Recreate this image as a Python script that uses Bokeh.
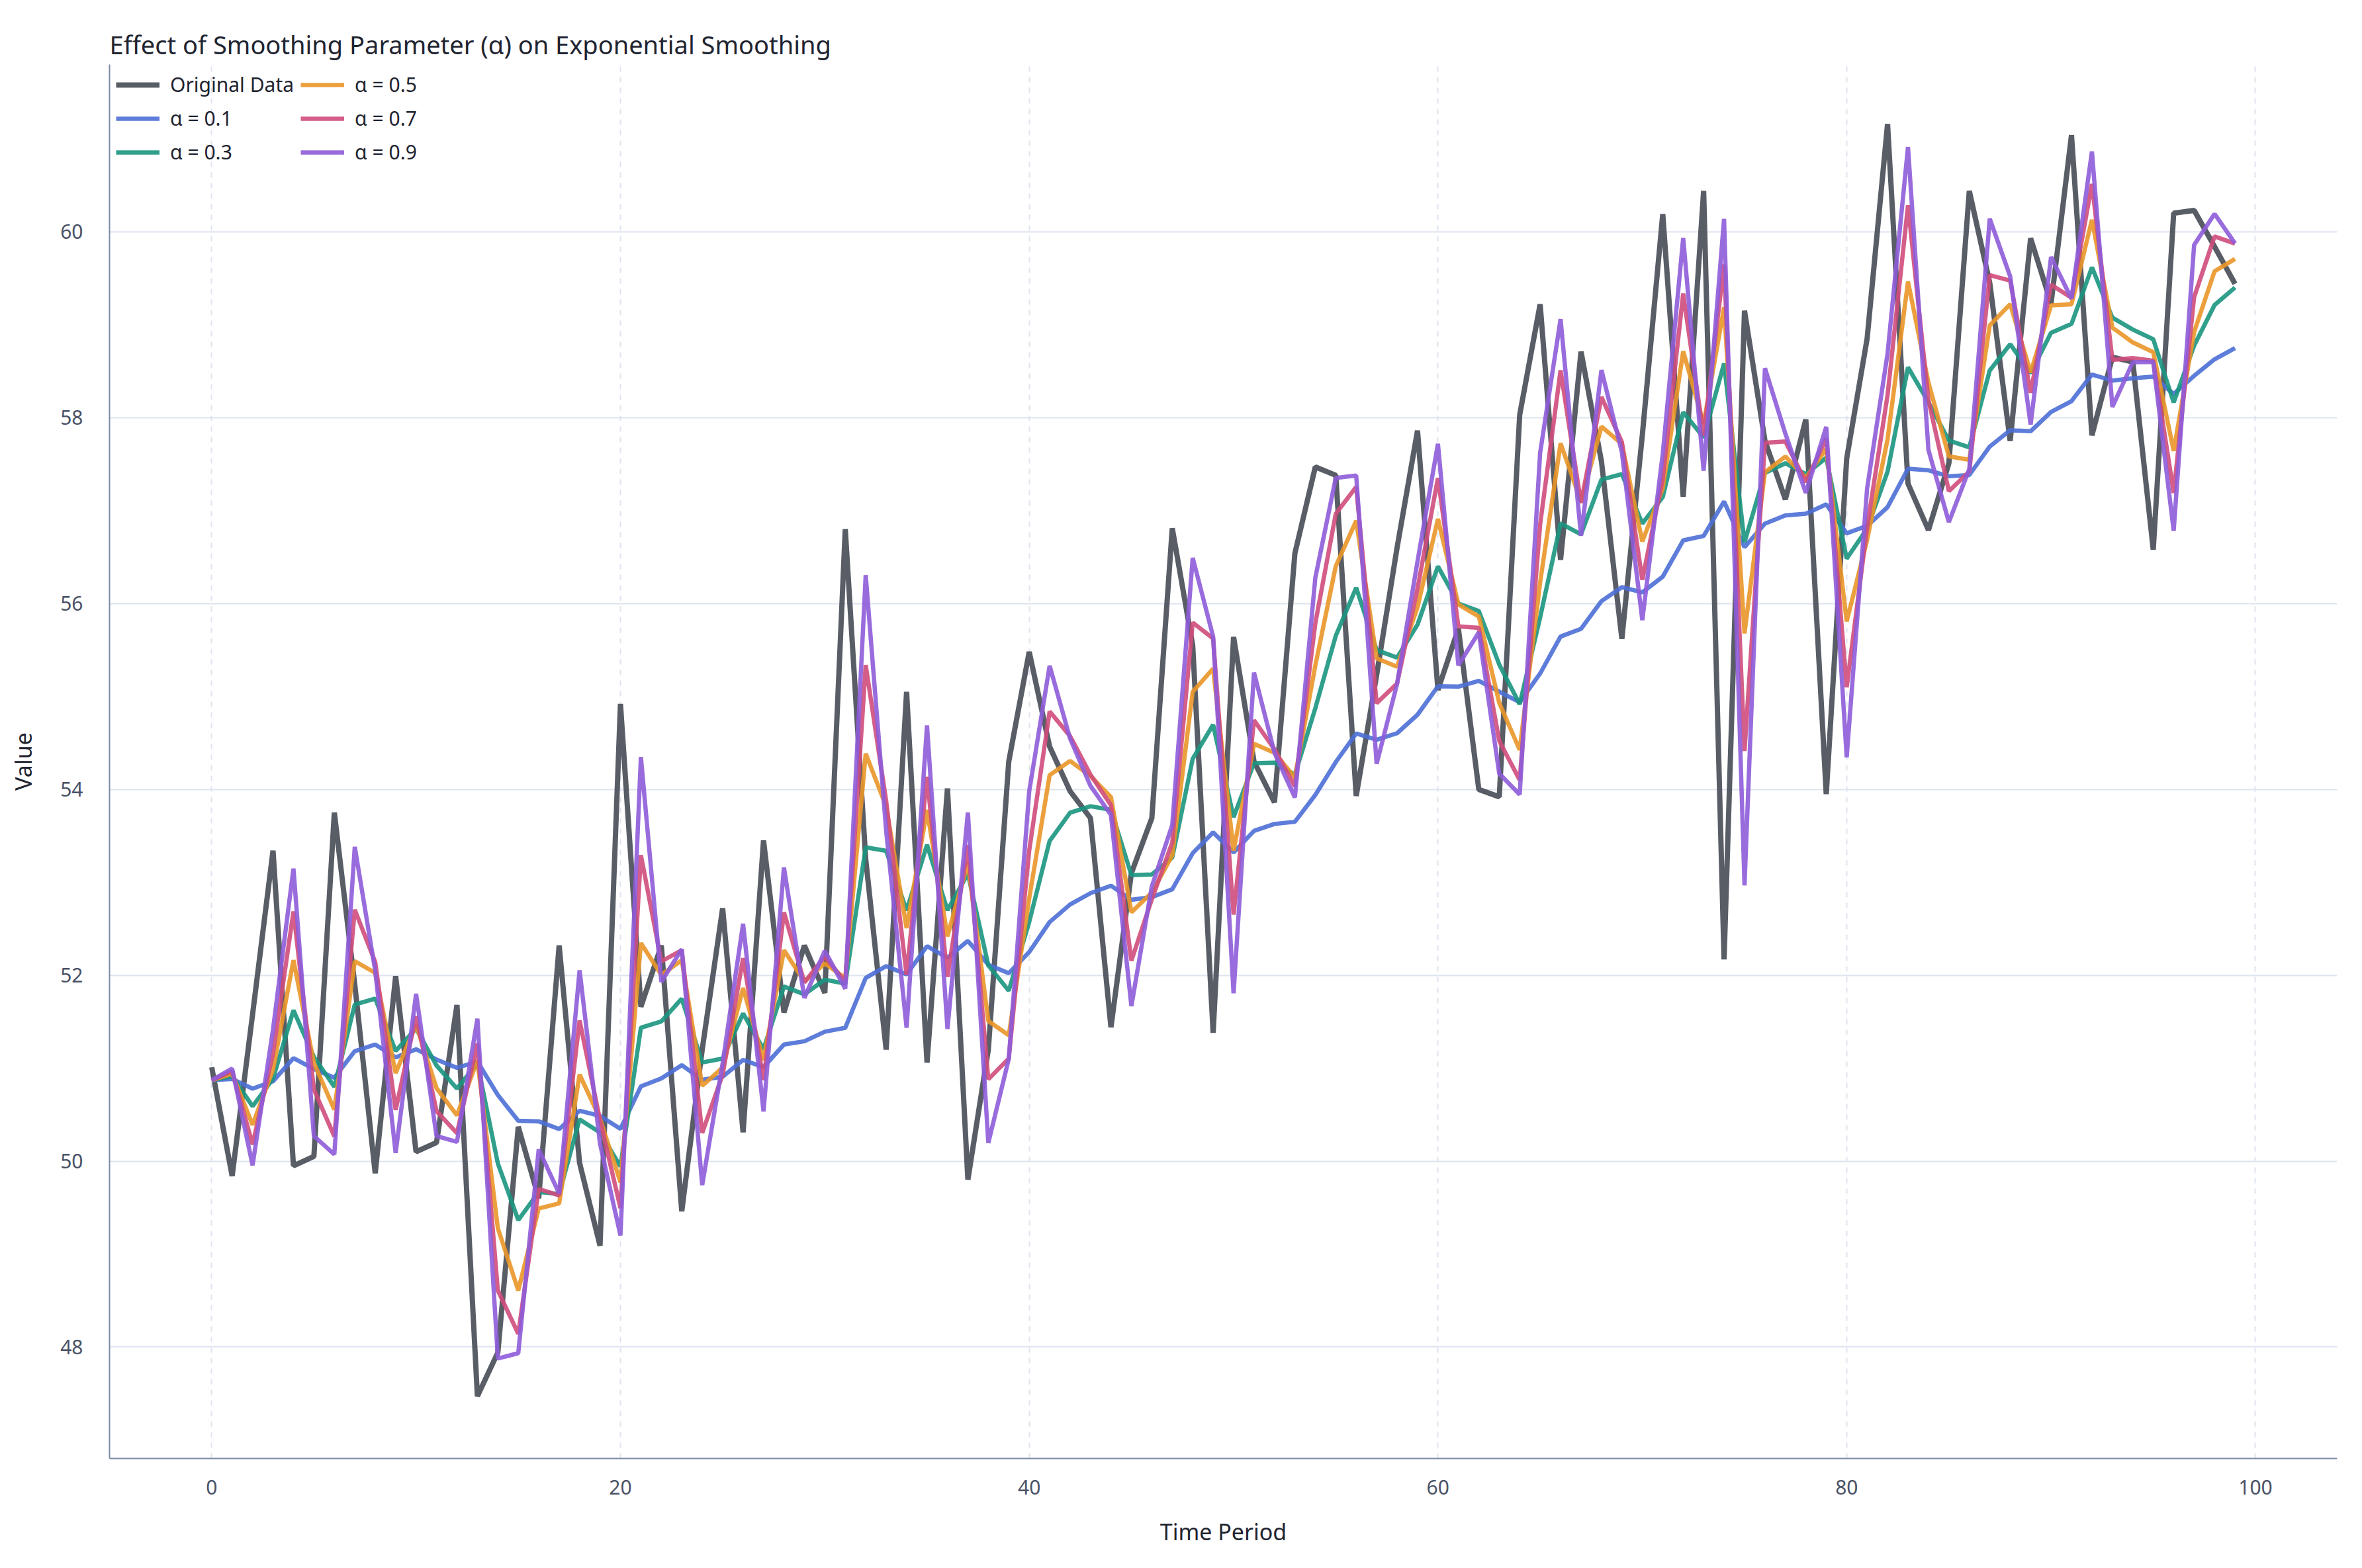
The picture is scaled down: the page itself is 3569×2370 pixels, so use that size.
from bokeh.plotting import figure
from bokeh.models import Legend, LegendItem, Range1d, FixedTicker
from bokeh.embed import file_html
from bokeh.resources import INLINE

time = list(range(100))
original = [51.01, 49.84, 51.58, 53.34, 49.95, 50.05, 53.75, 51.9, 49.87, 51.99,
            50.1, 50.2, 51.68, 47.47, 47.94, 50.37, 49.6, 52.32, 49.98, 49.09,
            54.92, 51.66, 52.32, 49.46, 51.2, 52.72, 50.31, 53.45, 51.6, 52.32,
            51.81, 56.8, 53.25, 51.2, 55.05, 51.06, 54.01, 49.8, 51.2, 54.3,
            55.48, 54.46, 53.98, 53.69, 51.44, 53.1, 53.69, 56.81, 55.55, 51.38,
            55.64, 54.3, 53.86, 56.54, 57.47, 57.38, 53.93, 55.23, 56.6, 57.86,
            55.07, 55.73, 54.0, 53.92, 58.03, 59.22, 56.47, 58.71, 57.53, 55.62,
            57.81, 60.19, 57.15, 60.44, 52.17, 59.15, 57.75, 57.12, 57.98, 53.95,
            57.56, 58.85, 61.16, 57.29, 56.79, 57.51, 60.44, 59.45, 57.75, 59.93,
            59.23, 61.04, 57.81, 58.65, 58.6, 56.58, 60.2, 60.23, 59.84, 59.44]
initial_level = 50.87
alphas = [0.1, 0.3, 0.5, 0.7, 0.9]
series_colors = ["#4c6fd6", "#1a9580", "#ea9628", "#cf4d7c", "#8e5cd9"]


def smooth(data, a):
    # one-step-ahead exponential smoothing (forecast uses previous observation)
    out = [initial_level]
    for v in data[:-1]:
        out.append(a * v + (1 - a) * out[-1])
    return out


p = figure(width=3553, height=2354, output_backend="svg", toolbar_location=None,
           x_range=Range1d(-5, 104), y_range=Range1d(46.8, 61.8),
           title="Effect of Smoothing Parameter (α) on Exponential Smoothing")
p.min_border_left = 165
p.min_border_right = 22
p.min_border_top = 97
p.min_border_bottom = 150
p.title.text_font = "Noto Sans"
p.title.text_font_size = "38px"
p.title.text_font_style = "normal"
p.title.text_color = "#1f2430"
p.title.offset = 0
p.outline_line_color = None

items = []
r = p.line(time, original, line_color="#474b55", line_alpha=0.9, line_width=8)
items.append(LegendItem(label="Original Data", renderers=[r]))
for a, c in zip(alphas, series_colors):
    r = p.line(time, smooth(original, a), line_color=c, line_alpha=0.9, line_width=6.5)
    items.append(LegendItem(label=f"α = {a}", renderers=[r]))

leg = Legend(items=items, location="top_left", nrows=3, orientation="vertical")
leg.border_line_color = None
leg.background_fill_alpha = 0.0
leg.label_text_font = "Noto Sans"
leg.label_text_font_size = "30px"
leg.label_text_color = "#1f2430"
leg.glyph_width = 66
leg.label_standoff = 16
leg.spacing = 10
leg.margin = 10
leg.padding = 12
p.add_layout(leg)

p.xaxis.ticker = FixedTicker(ticks=[0, 20, 40, 60, 80, 100])
p.yaxis.ticker = FixedTicker(ticks=[48, 50, 52, 54, 56, 58, 60])
for ax in (p.xaxis, p.yaxis):
    ax.axis_line_color = "#7d8aa5"
    ax.axis_line_width = 2
    ax.major_tick_line_color = None
    ax.minor_tick_line_color = None
    ax.major_label_text_font = "Noto Sans"
    ax.major_label_text_font_size = "30px"
    ax.major_label_text_color = "#4a5266"
    ax.axis_label_text_font = "Noto Sans"
    ax.axis_label_text_font_size = "34px"
    ax.axis_label_text_font_style = "normal"
    ax.axis_label_text_color = "#1f2430"
p.xaxis.axis_label = "Time Period"
p.yaxis.axis_label = "Value"
p.xaxis.major_label_standoff = 26
p.xaxis.axis_label_standoff = 30
p.yaxis.major_label_standoff = 34
p.yaxis.axis_label_standoff = 30

p.xgrid.grid_line_color = "#dde3ef"
p.xgrid.grid_line_dash = "8 8"
p.xgrid.grid_line_width = 2
p.ygrid.grid_line_color = "#dde3ef"
p.ygrid.grid_line_width = 2

open("out.html", "w").write(file_html(p, INLINE))
